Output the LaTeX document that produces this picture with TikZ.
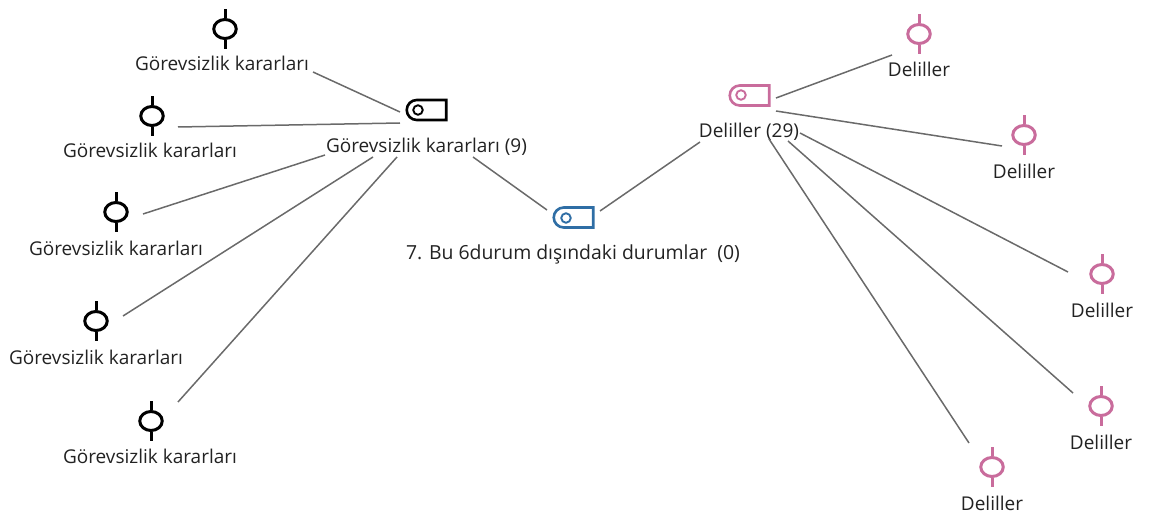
\documentclass[tikz,border=0pt]{standalone}
\usepackage{fontspec}
\setmainfont{Open Sans}
\usetikzlibrary{shapes.geometric,shapes.misc}
\definecolor{tagblue}{HTML}{2F6EA5}
\definecolor{tagpink}{HTML}{C96C9C}
\definecolor{linkgray}{HTML}{6A6A6A}
\definecolor{txt}{HTML}{222222}
\tikzset{
  link/.style={draw=linkgray,line width=1.5pt},
  lbl/.style={inner sep=0pt,text=txt,font=\fontsize{19pt}{22pt}\selectfont},
  tagbox/.style={rounded rectangle,rounded rectangle east arc=none,draw=#1,line width=2.6pt,
    minimum width=39.5pt,minimum height=20pt,inner sep=0pt},
  tagdot/.style={circle,draw=#1,line width=1.9pt,minimum size=9.5pt,inner sep=0pt},
  ring/.style={ellipse,draw=#1,line width=3pt,minimum width=22.5pt,minimum height=19pt,inner sep=0pt},
  stem/.style={draw=#1,line width=3pt},
}
\newcommand{\leafnode}[6]{% name, colour, x, y, lx, ly ; text follows in \leaftext
  \node[ring=#2] (#1) at (#3,#4) {};
  \draw[stem=#2] (#1.north) -- ++(0,-9);
  \draw[stem=#2] (#1.south) -- ++(0,9);
  \node[lbl] (#1t) at (#5,#6) {\leaftext};
}
\begin{document}
\begin{tikzpicture}[x=1pt,y=-1pt]
\useasboundingbox (0,0) rectangle (1149,513);
% hubs
\node[tagbox=black] (hubg) at (426.5,110) {};
\node[tagdot=black] (hubgd) at (418,110) {};
\node[lbl] (hubgt) at (426.5,147) {Görevsizlik kararları (9)};
\node[tagbox=tagblue] (root) at (573.5,217.5) {};
\node[tagdot=tagblue] (rootd) at (566,218) {};
\node[lbl,font=\fontsize{19.4pt}{22pt}\selectfont] (roott) at (573,254) {7. Bu 6durum dışındaki durumlar\ \ (0)};
\node[tagbox=tagpink] (hubp) at (749.5,95.5) {};
\node[tagdot=tagpink] (hubpd) at (741,95) {};
\node[lbl] (hubpt) at (749,132) {Deliller (29)};
% left leaves
\def\leaftext{Görevsizlik kararları}
\leafnode{ga}{black}{225}{29}{222}{63}
\leafnode{gb}{black}{152}{116}{150}{150}
\leafnode{gc}{black}{116}{212}{116}{248}
\leafnode{gd}{black}{96}{321}{96}{357}
\leafnode{ge}{black}{151}{421}{150}{456}
% right leaves
\def\leaftext{Deliller}
\leafnode{pa}{tagpink}{919}{34}{919}{69}
\leafnode{pb}{tagpink}{1024}{135}{1024}{171}
\leafnode{pc}{tagpink}{1102}{274}{1102}{310}
\leafnode{pd}{tagpink}{1101}{406}{1101}{442}
\leafnode{pe}{tagpink}{992}{467}{992}{503}
% connectors
\draw[link] ([shift={(88,43)}]ga.center) -- ([shift={(-26.5,2)}]hubg.center);
\draw[link] ([shift={(26,11)}]gb.center) -- ([shift={(-26.5,13)}]hubg.center);
\draw[link] ([shift={(27,2)}]gc.center) -- ([shift={(-101.5,45)}]hubg.center);
\draw[link] ([shift={(27,-5)}]gd.center) -- ([shift={(-53.5,47)}]hubg.center);
\draw[link] ([shift={(27,-19)}]ge.center) -- ([shift={(-29.5,47)}]hubg.center);
\draw[link] ([shift={(46.5,47)}]hubg.center) -- ([shift={(-26.5,-7.5)}]root.center);
\draw[link] ([shift={(26.5,-6.5)}]root.center) -- ([shift={(-49.5,46.5)}]hubp.center);
\draw[link] ([shift={(26.5,2.5)}]hubp.center) -- ([shift={(-27,21)}]pa.center);
\draw[link] ([shift={(26.5,15.5)}]hubp.center) -- ([shift={(-22,11)}]pb.center);
\draw[link] ([shift={(50.5,37.5)}]hubp.center) -- ([shift={(-34,-2)}]pc.center);
\draw[link] ([shift={(38.5,45.5)}]hubp.center) -- ([shift={(-28,-13)}]pd.center);
\draw[link] ([shift={(19.5,43.5)}]hubp.center) -- ([shift={(-23,-24)}]pe.center);
\end{tikzpicture}
\end{document}
